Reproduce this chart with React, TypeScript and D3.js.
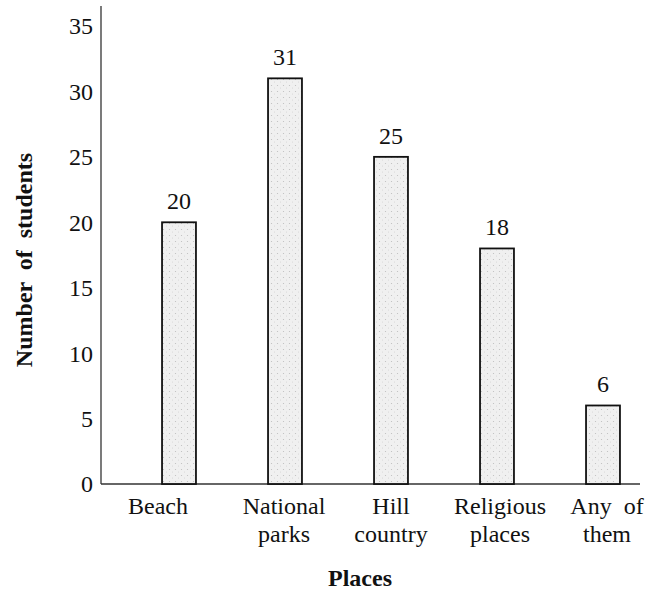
import React from "react";
import * as d3 from "d3";

const categories: string[][] = [
  ["Beach"],
  ["National", "parks"],
  ["Hill", "country"],
  ["Religious", "places"],
  ["Any  of", "them"],
];
const values: number[] = [20, 31, 25, 18, 6];
const yTicks: number[] = [0, 5, 10, 15, 20, 25, 30, 35];

// layout-only horizontal nudges of category labels relative to bar centres
const labelDx: number[] = [-21, -1, 0, 3, 4];

const W = 649;
const H = 594;
const FONT = "'Liberation Serif', 'DejaVu Serif', serif";

export default function App() {
  const x0 = 101;
  const yBase = 484;
  const x = d3
    .scaleBand<number>()
    .domain(d3.range(values.length))
    .range([126, 656])
    .paddingInner(0.68)
    .paddingOuter(0.34);
  const y = d3.scaleLinear().domain([0, 35]).range([yBase, 26]);

  return (
    <svg
      width={W}
      height={H}
      style={{ position: "absolute", left: 0, top: 0, background: "#fff" }}
      fontFamily={FONT}
    >
      <defs>
        <pattern id="stip" width="6" height="6" patternUnits="userSpaceOnUse">
          <rect width="6" height="6" fill="#f0f0f0" />
          <circle cx="1.5" cy="1.5" r="0.6" fill="#bdbdbd" />
          <circle cx="4.5" cy="4" r="0.5" fill="#d0d0d0" />
        </pattern>
      </defs>

      {/* axes */}
      <line x1={x0} x2={x0} y1={6} y2={yBase} stroke="#333" strokeWidth={1.3} />
      <line x1={x0} x2={640} y1={yBase} y2={yBase} stroke="#333" strokeWidth={1.3} />
      {yTicks.map((t) => (
        <text
          key={t}
          x={93}
          y={y(t)}
          dy="0.35em"
          textAnchor="end"
          fontSize={24}
          fill="#111"
        >
          {t}
        </text>
      ))}

      {/* bars */}
      {values.map((v, i) => {
        const bx = x(i)!;
        const bw = x.bandwidth();
        return (
          <g key={i}>
            <rect
              x={bx}
              y={y(v)}
              width={bw}
              height={yBase - y(v)}
              fill="url(#stip)"
              stroke="#111"
              strokeWidth={1.8}
            />
            <text
              x={bx + bw / 2}
              y={y(v) - 13}
              textAnchor="middle"
              fontSize={24}
              fill="#111"
            >
              {v}
            </text>
          </g>
        );
      })}

      {/* category labels */}
      {categories.map((lines, i) => {
        const cx = x(i)! + x.bandwidth() / 2 + labelDx[i];
        return (
          <text key={i} textAnchor="middle" fontSize={24} fill="#111">
            {lines.map((ln, j) => (
              <tspan key={j} x={cx} y={514 + j * 28} style={{ whiteSpace: "pre" }}>
                {ln}
              </tspan>
            ))}
          </text>
        );
      })}

      {/* axis titles */}
      <text
        x={360}
        y={586}
        textAnchor="middle"
        fontSize={24}
        fontWeight="bold"
        fill="#111"
      >
        Places
      </text>
      <text
        transform={`translate(32,260) rotate(-90)`}
        textAnchor="middle"
        fontSize={24}
        fontWeight="bold"
        fill="#111"
        style={{ whiteSpace: "pre" }}
      >
        Number  of  students
      </text>
    </svg>
  );
}
